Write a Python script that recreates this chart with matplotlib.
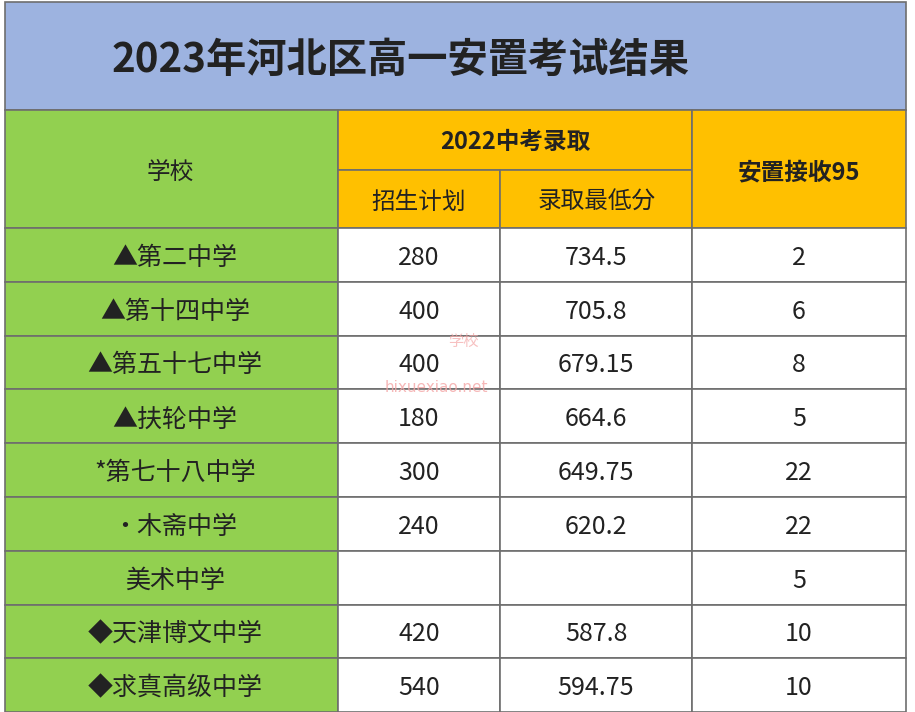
import matplotlib
matplotlib.use("Agg")
import matplotlib.pyplot as plt
from matplotlib.patches import Rectangle

title = "2023年河北区高一安置考试结果"
schools = ["▲第二中学", "▲第十四中学", "▲第五十七中学", "▲扶轮中学", "*第七十八中学",
           "・木斋中学", "美术中学", "◆天津博文中学", "◆求真高级中学"]
plan = ["280", "400", "400", "180", "300", "240", "", "420", "540"]
min_score = ["734.5", "705.8", "679.15", "664.6", "649.75", "620.2", "", "587.8", "594.75"]
accept95 = ["2", "6", "8", "5", "22", "22", "5", "10", "10"]

plt.rcParams["font.family"] = ["Noto Sans CJK SC", "Noto Sans CJK JP", "DejaVu Sans"]
fig = plt.figure(figsize=(9.15, 7.12), dpi=100)
ax = fig.add_axes([0, 0, 1, 1])
ax.set_xlim(0, 915); ax.set_ylim(712, 0); ax.axis("off")

blue, green, yellow, line = "#9DB3E0", "#92D050", "#FFC000", "#6E6E6E"
xs = [5, 338, 500, 692, 906]

def cell(x0, y0, x1, y1, color):
    ax.add_patch(Rectangle((x0, y0), x1 - x0, y1 - y0, facecolor=color, edgecolor=line, lw=1.2))

def txt(x, y, s, size=17, weight="normal"):
    ax.text(x, y, s, ha="center", va="center", fontsize=size, color="#222222", fontweight=weight)

cell(5, 2, 906, 110, blue)
ax.text(112, 60, title, ha="left", va="center", fontsize=29, color="#222222", fontweight="bold")

cell(xs[0], 110, xs[1], 228, green); txt(170, 172, "学校")
cell(xs[1], 110, xs[3], 170, yellow); txt(515, 142, "2022中考录取", weight="bold")
cell(xs[1], 170, xs[2], 228, yellow); txt(419, 202, "招生计划")
cell(xs[2], 170, xs[3], 228, yellow); txt(596, 202, "录取最低分")
cell(xs[3], 110, xs[4], 228, yellow); txt(799, 172, "安置接收95", weight="bold")

y0, h = 228, 53.8
for i in range(len(schools)):
    yt = y0 + i * h
    cell(xs[0], yt, xs[1], yt + h, green)
    for j in range(1, 4):
        cell(xs[j], yt, xs[j + 1], yt + h, "white")
    yc = yt + h / 2 + 3
    txt(175, yc, schools[i], size=18)
    txt(419, yc, plan[i], size=18)
    txt(596, yc, min_score[i], size=18)
    txt(799, yc, accept95[i], size=18)

ax.text(385, 387, "hixuexiao.net", fontsize=11, color="#F4A6A6", ha="left", va="center", family="DejaVu Sans", alpha=0.8)
ax.text(448, 341, "学校", fontsize=11, color="#F4A6A6", ha="left", va="center", alpha=0.7, style="italic")

fig.savefig("out.png", dpi=100)
